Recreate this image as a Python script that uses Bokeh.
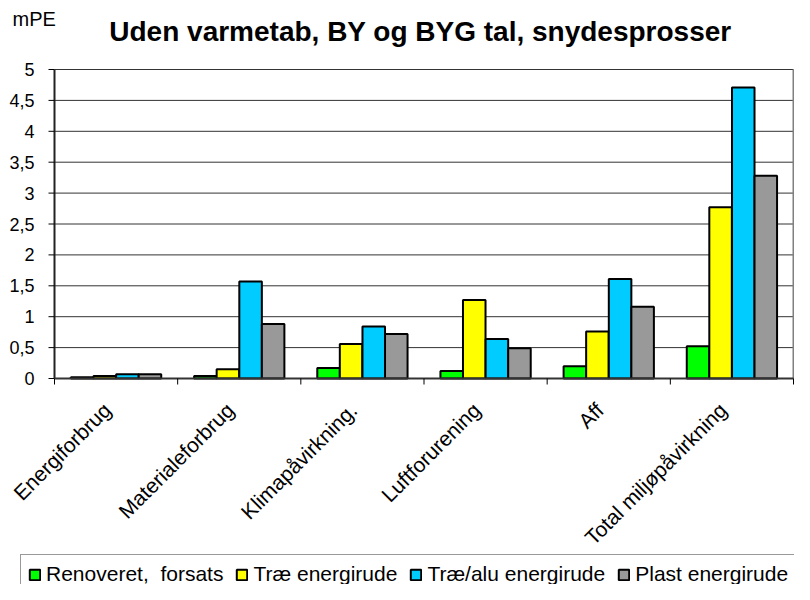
import math
from bokeh.plotting import figure
from bokeh.models import Legend, LegendItem, Range1d, ColumnDataSource
from bokeh.core.properties import value
from bokeh.embed import file_html
from bokeh.resources import INLINE

# ---- data ----
categories = ["Energiforbrug", "Materialeforbrug", "Klimapåvirkning.",
              "Luftforurening", "Aff", "Total miljøpåvirkning"]
series_names = ["Renoveret,\u00a0 forsats", "Træ energirude",
                "Træ/alu energirude", "Plast energirude"]
renoveret = [0.02, 0.04, 0.17, 0.12, 0.20, 0.52]
trae = [0.04, 0.15, 0.56, 1.27, 0.76, 2.77]
traealu = [0.07, 1.57, 0.84, 0.64, 1.61, 4.71]
plast = [0.07, 0.88, 0.72, 0.49, 1.16, 3.28]
y_ticks = [0, 0.5, 1, 1.5, 2, 2.5, 3, 3.5, 4, 4.5, 5]
y_tick_labels = ["0", "0,5", "1", "1,5", "2", "2,5", "3", "3,5", "4", "4,5", "5"]
title_text = "Uden varmetab, BY og BYG tal, snydesprosser"
unit_text = "mPE"
colors = ["#00FF00", "#FFFF00", "#00CCFF", "#999999"]

FONT = "Liberation Sans"
N = len(categories)
Y_MAX = y_ticks[-1]

# ---- page geometry (pixels inside the figure) ----
W, H = 794, 584
AX_LEFT_PX, AX_RIGHT_PX = 54, 793      # value axis / right edge of plot area
ZERO_PX, TOP_PX = 378, 69              # zero line / top gridline
PX_X = (AX_RIGHT_PX - AX_LEFT_PX) / N
PX_Y = (ZERO_PX - TOP_PX) / Y_MAX


def xd(px):
    return (px - AX_LEFT_PX) / PX_X


def yd(py):
    return (ZERO_PX - py) / PX_Y


p = figure(width=W, height=H, x_range=Range1d(xd(0), xd(W)),
           y_range=Range1d(yd(H), yd(0)), output_backend="svg",
           toolbar_location=None, x_axis_location=None, y_axis_location=None,
           min_border=0)
p.title.visible = False
p.grid.visible = False
p.outline_line_color = None
p.background_fill_color = "white"
p.border_fill_color = "white"

# gridlines (value axis ticks above zero)
grid_y = [t for t in y_ticks if t > 0]
p.segment(x0=[0] * len(grid_y), y0=grid_y, x1=[N] * len(grid_y), y1=grid_y,
          line_color="#333333", line_width=1)

# bars
series = [renoveret, trae, traealu, plast]
offsets = [-0.275, -0.092, 0.092, 0.275]
bar_w = 0.183
items = []
for name, vals, col, off in zip(series_names, series, colors, offsets):
    src = ColumnDataSource(dict(x=[i + 0.5 + off for i in range(N)], top=vals))
    r = p.vbar(x="x", top="top", width=bar_w, bottom=0, source=src,
               fill_color=col, line_color="black", line_width=2)
    items.append(LegendItem(label=name, renderers=[r]))

# value axis: line, ticks, labels
tick_x = 6 / PX_X
p.segment(x0=[0], y0=[0], x1=[0], y1=[Y_MAX], line_color="#222222", line_width=2)
p.segment(x0=[-tick_x] * len(y_ticks), y0=y_ticks, x1=[0] * len(y_ticks), y1=y_ticks,
          line_color="black", line_width=1)
p.text(x=[-20 / PX_X] * len(y_ticks), y=y_ticks, text=y_tick_labels,
       text_align="right", text_baseline="middle", text_font=value(FONT),
       text_font_size="18px", text_color="black")

# plot-area right border, category axis line and separator ticks
p.segment(x0=[N], y0=[0], x1=[N], y1=[Y_MAX], line_color="#808080", line_width=2)
p.segment(x0=[0], y0=[0], x1=[N], y1=[0], line_color="#333333", line_width=2)
tick_y = 6 / PX_Y
p.segment(x0=list(range(N + 1)), y0=[0] * (N + 1), x1=list(range(N + 1)),
          y1=[-tick_y] * (N + 1), line_color="black", line_width=1)

# rotated category labels
p.text(x=[i + 0.5 - 9 / PX_X for i in range(N)], y=[-28 / PX_Y] * N, text=categories,
       angle=math.pi / 4, text_align="right", text_baseline="middle",
       text_font=value(FONT), text_font_size="21px", text_color="black")

# title and unit
p.text(x=[xd(420)], y=[yd(31)], text=[title_text], text_align="center",
       text_baseline="alphabetic", text_font=value(FONT), text_font_size="28px",
       text_font_style="bold", text_color="black")
p.text(x=[xd(12)], y=[yd(18)], text=[unit_text], text_align="left",
       text_baseline="alphabetic", text_font=value(FONT), text_font_size="20px",
       text_color="black")

legend = Legend(items=items, orientation="horizontal", location=(20, -10),
                label_text_font=FONT, label_text_font_size="21px",
                label_text_color="black", glyph_width=13, glyph_height=13,
                label_standoff=5, spacing=12, padding=7, margin=0,
                border_line_color="#333333", border_line_width=1,
                background_fill_color="white", background_fill_alpha=1)
p.add_layout(legend, "center")

open("out.html", "w").write(file_html(p, INLINE))
